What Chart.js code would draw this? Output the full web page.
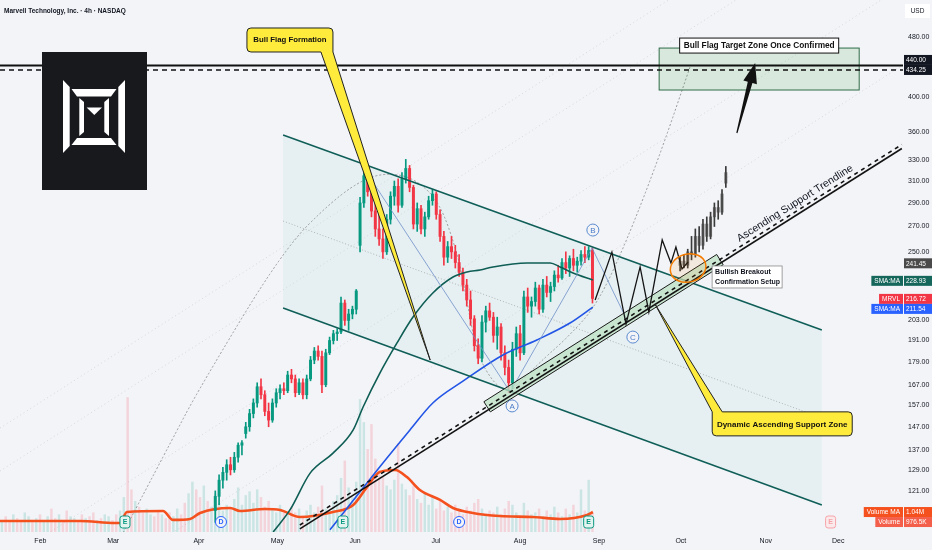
<!DOCTYPE html>
<html>
<head>
<meta charset="utf-8">
<title>MRVL 4h</title>
<script src="https://cdn.jsdelivr.net/npm/chart.js@4.4.1/dist/chart.umd.min.js"></script>
<style>
  html, body { margin: 0; padding: 0; background: #f3f4f8; overflow: hidden; }
  canvas { display: block; }
</style>
</head>
<body>
<canvas id="chart" width="932" height="550"></canvas>
<script>
// x values are session numbers counted from Jan 2, prices are USD
const monthDays = [20.1, 39.2, 61.7, 82.3, 102.7, 123.9, 146.0, 166.7, 188.2, 210.5, 229.5];
const monthLabels = ['Feb', 'Mar', 'Apr', 'May', 'Jun', 'Jul', 'Aug', 'Sep', 'Oct', 'Nov', 'Dec'];
const priceTicks = [121, 129, 137, 147, 157, 167, 179, 191, 203, 250, 270, 290, 310, 330, 360, 400, 480];

// [open, high, low, close], one per session starting at firstCandleDay
const firstCandleDay = 66;
const candles = [
  [114,121,110,119],[119,127,116,125],[125,130,122,128],[128,133,125,131],[131,134,127,129],
  [129,136,128,134],[134,140,132,139],[139,141,135,140],[144,149,142,147],[147,155,145,153],
  [153,160,151,158],[158,168,156,166],[166,170,160,162],[162,164,152,154],[154,158,147,150],
  [150,160,149,158],[158,165,156,163],[163,167,160,165],[165,168,162,164],[164,174,163,172],
  [172,175,168,170],[170,172,161,163],[163,170,162,168],[168,170,160,162],[162,172,160,170],
  [170,182,169,180],[180,187,178,185],[185,188,180,182],[182,185,163,167],[167,186,166,184],
  [184,193,183,191],[191,197,189,195],[195,198,191,196],[196,218,195,214],[214,216,200,203],
  [203,210,197,207],[207,212,204,210],[210,223,207,222],[255,295,250,290],[290,322,286,315],
  [315,324,296,300],[300,308,278,283],[283,295,262,268],[268,286,255,260],[260,268,245,250],
  [250,280,248,276],[276,300,272,296],[296,310,288,305],[305,312,282,288],[288,318,286,312],
  [312,331,308,322],[322,325,300,304],[304,306,268,272],[272,290,266,285],[285,288,264,268],
  [268,282,262,278],[278,296,276,292],[292,302,288,298],[298,300,276,280],[280,284,258,262],
  [262,266,240,246],[246,258,242,254],[254,262,245,250],[250,255,238,242],[242,248,232,235],
  [235,238,222,226],[226,230,212,216],[216,222,200,204],[204,206,185,188],[188,192,178,181],
  [181,206,179,202],[202,212,196,209],[209,214,203,205],[205,208,190,194],[194,205,186,199],
  [199,201,180,184],[184,188,172,176],[176,180,163,168],[168,190,165,186],[186,199,182,195],
  [195,200,180,184],[184,222,183,218],[218,224,208,212],[212,218,205,215],[215,228,212,224],
  [224,226,207,210],[210,230,208,226],[226,232,218,221],[221,228,215,225],[225,236,222,233],
  [233,240,228,231],[231,245,230,242],[242,250,234,238],[238,247,232,245],[245,252,236,240],
  [240,246,235,243],[243,251,240,248],[248,254,242,246],[246,254,244,251],[251,253,214,217]
];

// projected bars pattern drawn in October
const projectedStartDay = 188;
const projectedBars = [
  [240,246,236,243],[243,248,238,240],[240,252,238,250],[250,262,244,248],[248,268,246,262],
  [262,270,250,255],[255,276,252,272],[272,278,258,262],[262,282,260,278],[278,290,270,286],
  [286,292,276,282],[282,302,280,298],[308,324,304,318]
];

// volume in millions, one per session starting at volumeStartDay
const volumeStartDay = 10;
const volumes = [
  0.6,0.8,0.5,0.9,0.7,0.6,1.0,0.8,0.5,0.7,
  0.9,0.6,0.8,1.2,0.7,0.9,0.6,1.1,0.8,0.7,
  0.6,0.9,0.7,0.8,1.0,0.6,0.7,0.9,0.8,0.6,
  0.9,1.1,1.8,7.0,2.2,1.6,1.3,1.0,1.2,0.9,
  0.8,1.1,0.9,0.7,1.0,0.8,1.2,0.9,1.5,2.0,
  2.6,2.2,1.8,2.4,1.6,1.3,2.0,1.5,1.1,1.4,
  1.2,1.7,2.3,1.4,1.9,2.1,1.5,2.2,1.8,1.3,
  1.6,1.2,1.0,1.4,1.1,0.9,1.3,1.0,1.2,0.8,
  1.1,1.4,1.0,1.3,2.4,1.2,1.0,1.6,1.9,2.8,
  3.7,2.3,1.8,2.6,6.9,5.7,4.3,5.6,3.8,3.2,
  2.9,2.4,2.2,2.7,4.6,2.5,2.2,1.9,2.4,1.7,
  1.5,2.0,1.4,1.8,1.2,1.6,1.1,1.3,1.0,1.4,
  1.2,0.9,1.3,1.1,1.5,1.7,1.2,0.9,1.1,1.0,
  1.3,0.9,1.2,1.6,1.4,1.0,0.8,1.5,1.1,0.9,
  1.0,1.2,0.8,1.1,0.9,1.3,1.0,0.8,1.2,0.9,
  1.4,1.0,2.2,1.1,2.7,1.0
];
// bar colour for the sessions before the first visible candle (u = up, d = down)
const earlyVolumeDirs = 'uddudduududuuddudduuddudduduudduuddudduuddudduudduuddud';

const volumeMA = [[9.5,0.57],[30.5,0.57],[39.7,0.47],[41.0,0.47],[42.8,1.04],[52.3,1.09],[54.9,0.63],
  [59.4,0.68],[62.0,0.99],[69.9,1.25],[72.5,1.09],[79.0,1.20],[83.0,1.15],[88.2,0.78],[96.9,1.04],
  [102.2,1.41],[105.8,2.34],[109.2,3.13],[113.2,3.23],[116.3,2.86],[119.7,2.19],[125.0,1.67],
  [128.4,1.25],[133.6,0.99],[140.7,0.83],[149.4,0.78],[156.5,0.68],[163.6,0.89],[165.1,1.04]];
const smaFast = [[81.2,106.8],[85.6,114.2],[90.9,127.7],[96.9,135.7],[102.2,145.6],[104.8,156.1],
  [109.2,173.0],[113.7,189.6],[117.9,205.1],[123.1,220.6],[128.4,231.6],[132.1,235.2],[135.5,236.6],
  [138.9,238.8],[147.8,241.7],[153.9,241.7],[156.5,238.8],[159.9,234.5],[165.1,229.5]];
const smaSlow = [[96.1,107.5],[110.0,131.7],[117.1,145.6],[123.1,158.0],[131.0,168.8],[141.5,182.8],
  [150.4,191.3],[159.1,201.4],[165.1,211.4]];

// drawings, as [session, price] anchors
const channelUpper = [[83.8,356.4],[225.2,197.2]];
const channelLower = [[83.8,210.8],[225.2,115.9]];
const channelMid = [[83.8,274.5],[225.2,151.0]];
const supportLine = [[88.2,107.8],[246.2,342.1]];
const supportDashed = [[88.2,109.1],[246.2,346.3]];
const supportZone = [[136.5,158.6],[138.2,153.8],[199.3,240.4],[197.6,248.0]];
const targetZone = [[182.5,464.1],[235.0,408.6]];
const targetLine = 440;
const targetDashed = 434.25;
const projection = [[165.7,216.0],[170.1,249.8],[173.8,200.8],[177.5,238.8],[179.8,208.3],[183.3,259.2],
  [185.6,241.7],[186.9,253.7],[188.5,237.3],[190.1,242.4]];
const abcLegs = [[104.8,323.4],[143.4,163.4],[164.9,252.9],[174.3,202.0]];
const abcMarks = [['A',143.9,156.6],['B',165.1,267.1],['C',175.6,193.0]];
const arcLeft = [[41.8,106.5],[54.6,141.2],[62.0,165.8],[83.8,251.4],[96.9,292.6],[105.8,313.7],
  [112.7,317.6],[118.9,310.9],[125.0,290.0],[129.7,247.6],[131.5,222.6],[134.7,182.8],[139.4,166.8],[143.4,163.4]];
const arcRight = [[143.4,163.4],[151.2,178.9],[158.3,192.4],[166.2,212.7],[174.1,259.2],[182.7,335.4],[190.6,438.2]];
const guideLines = [
  [[9.5,146.4],[246.5,846.7]], [[9.5,128.5],[246.5,743.0]],
  [[9.5,96.9],[246.5,560.3]], [[9.5,76.2],[246.5,440.8]]
];
const targetArrow = [[202.9,358.6],[207.7,443.5]];
const flagCallout = { text: 'Bull Flag Formation', at: [85.6,475.6], tip: [122.4,180.0] };
const zoneCallout = { text: 'Dynamic Ascending Support Zone', at: [214.8,148.3], tip: [181.4,213.4] };
const breakoutNote = { lines: ['Bullish Breakout', 'Confirmation Setup'], at: [196.4,239.5] };
const breakoutRing = [190.1,238.0];
const trendLabel = { text: 'Ascending Support Trendline', day: 219.2 };
const targetLabel = 'Bull Flag Target Zone Once Confirmed';
const earningsDays = [42.3, 99.5, 164.0];
const dividendDays = [67.5, 130.0];
const futureEarningsDays = [227.5];

const axisTags = [
  { value: 434.25, text: '434.25', bg: '#131722' },
  { value: 440, text: '440.00', bg: '#131722' },
  { value: 241.45, text: '241.45', bg: '#4a4a4a' },
  { value: 228.93, name: 'SMA:MA', text: '228.93', bg: '#15675b' },
  { value: 216.72, name: 'MRVL', text: '216.72', bg: '#f23645' },
  { value: 211.54, name: 'SMA:MA', text: '211.54', bg: '#2962ff' },
  { value: 1.04, axis: 'yv', name: 'Volume MA', text: '1.04M', bg: '#f4511e' },
  { value: 0.9765, axis: 'yv', name: 'Volume', text: '976.5K', bg: '#f45f4c' }
];

const GREEN = '#089981';
const RED = '#f23645';
const BG = '#f3f4f8';
const FONT = '"Liberation Sans", Arial, sans-serif';

const isUp = c => c[3] >= c[0];
const wickData = candles.map((c, i) => ({ x: firstCandleDay + i, y: [c[2], c[1]] }));
const bodyData = candles.map((c, i) => ({ x: firstCandleDay + i, y: [Math.min(c[0], c[3]), Math.max(c[0], c[3])] }));
const candleColors = candles.map(c => isUp(c) ? GREEN : RED);
const projWicks = projectedBars.map((c, i) => ({ x: projectedStartDay + i, y: [c[2], c[1]] }));
const projBodies = projectedBars.map((c, i) => ({ x: projectedStartDay + i, y: [Math.min(c[0], c[3]), Math.max(c[0], c[3])] }));
const volumeData = volumes.map((v, i) => ({ x: volumeStartDay + i, y: v }));
const volumeColors = volumes.map((v, i) => {
  const c = candles[volumeStartDay + i - firstCandleDay];
  const up = c ? isUp(c) : earlyVolumeDirs[i] !== 'd';
  return up ? 'rgba(8,153,129,0.17)' : 'rgba(242,54,69,0.17)';
});
const toXY = arr => arr.map(([x, y]) => ({ x, y }));

// ---- drawing helpers ----
function pix(chart, p) {
  return [chart.scales.x.getPixelForValue(p[0]), chart.scales.y.getPixelForValue(p[1])];
}
function polyPath(ctx, pts, close) {
  ctx.beginPath();
  pts.forEach((p, i) => i ? ctx.lineTo(p[0], p[1]) : ctx.moveTo(p[0], p[1]));
  if (close) ctx.closePath();
}
function strokeLine(ctx, pts, color, width, dash) {
  ctx.save();
  ctx.strokeStyle = color;
  ctx.lineWidth = width;
  ctx.setLineDash(dash || []);
  polyPath(ctx, pts, false);
  ctx.stroke();
  ctx.restore();
}
function smoothPath(ctx, pts) {
  ctx.beginPath();
  ctx.moveTo(pts[0][0], pts[0][1]);
  for (let i = 1; i < pts.length - 1; i++) {
    const mx = (pts[i][0] + pts[i + 1][0]) / 2, my = (pts[i][1] + pts[i + 1][1]) / 2;
    ctx.quadraticCurveTo(pts[i][0], pts[i][1], mx, my);
  }
  const last = pts[pts.length - 1];
  ctx.lineTo(last[0], last[1]);
}
function roundRect(ctx, x, y, w, h, r) {
  ctx.beginPath();
  ctx.moveTo(x + r, y);
  ctx.lineTo(x + w - r, y);
  ctx.quadraticCurveTo(x + w, y, x + w, y + r);
  ctx.lineTo(x + w, y + h - r);
  ctx.quadraticCurveTo(x + w, y + h, x + w - r, y + h);
  ctx.lineTo(x + r, y + h);
  ctx.quadraticCurveTo(x, y + h, x, y + h - r);
  ctx.lineTo(x, y + r);
  ctx.quadraticCurveTo(x, y, x + r, y);
  ctx.closePath();
}
function clipArea(chart) {
  const a = chart.chartArea;
  chart.ctx.save();
  chart.ctx.beginPath();
  chart.ctx.rect(a.left, a.top, a.right - a.left, a.bottom - a.top);
  chart.ctx.clip();
}

function drawLogo(ctx, x0, y0) {
  ctx.save();
  ctx.fillStyle = '#17191d';
  ctx.fillRect(x0, y0, 105, 138);
  ctx.fillStyle = '#ffffff';
  const shapes = [
    [[21,28],[27.7,35],[27.7,94],[21,101]],
    [[83,28],[76.3,35],[76.3,94],[83,101]],
    [[29.5,37],[74.5,37],[69,44.5],[35,44.5]],
    [[35,86],[69,86],[74.5,93],[29.5,93]],
    [[37.3,46],[42,50],[42,80],[37.3,84]],
    [[67,46],[62.3,50],[62.3,80],[67,84]],
    [[44.6,55.6],[60,55.6],[52.3,63]]
  ];
  shapes.forEach(s => { polyPath(ctx, s.map(p => [x0 + p[0], y0 + p[1]]), true); ctx.fill(); });
  ctx.restore();
}

const underPlugin = {
  id: 'under',
  beforeDraw(chart) {
    const ctx = chart.ctx;
    ctx.save();
    ctx.fillStyle = BG;
    ctx.fillRect(0, 0, chart.width, chart.height);
    ctx.restore();
  },
  beforeDatasetsDraw(chart) {
    const ctx = chart.ctx;
    clipArea(chart);
    guideLines.forEach(l => strokeLine(ctx, l.map(p => pix(chart, p)), 'rgba(140,140,155,0.35)', 0.8, [1, 3]));
    // channel shading
    const poly = [pix(chart, channelUpper[0]), pix(chart, channelUpper[1]), pix(chart, channelLower[1]), pix(chart, channelLower[0])];
    ctx.fillStyle = 'rgba(178,223,219,0.20)';
    polyPath(ctx, poly, true);
    ctx.fill();
    strokeLine(ctx, channelMid.map(p => pix(chart, p)), '#a3a3a3', 0.8, [1, 2]);
    // dotted arcs
    ctx.save();
    ctx.strokeStyle = '#9a9a9a';
    ctx.lineWidth = 1;
    ctx.setLineDash([2, 2]);
    smoothPath(ctx, arcLeft.map(p => pix(chart, p)));
    ctx.stroke();
    smoothPath(ctx, arcRight.map(p => pix(chart, p)));
    ctx.stroke();
    ctx.restore();
    ctx.restore();
  }
};

const overPlugin = {
  id: 'over',
  afterDatasetsDraw(chart) {
    const ctx = chart.ctx;
    const a = chart.chartArea;
    const y = chart.scales.y;
    clipArea(chart);

    strokeLine(ctx, abcLegs.map(p => pix(chart, p)), '#6f8fc9', 0.8);
    strokeLine(ctx, channelUpper.map(p => pix(chart, p)), '#105e58', 1.6);
    strokeLine(ctx, channelLower.map(p => pix(chart, p)), '#105e58', 1.6);

    // support zone box, then trend lines
    ctx.fillStyle = 'rgba(190,225,196,0.75)';
    polyPath(ctx, supportZone.map(p => pix(chart, p)), true);
    ctx.fill();
    ctx.strokeStyle = '#1b1b1b';
    ctx.lineWidth = 1;
    ctx.stroke();
    strokeLine(ctx, supportLine.map(p => pix(chart, p)), '#131313', 1.6);
    strokeLine(ctx, supportDashed.map(p => pix(chart, p)), '#131313', 1.6, [4, 4]);

    strokeLine(ctx, projection.map(p => pix(chart, p)), '#141414', 1.3);

    // breakout ring
    const rc = pix(chart, breakoutRing);
    ctx.save();
    ctx.beginPath();
    ctx.ellipse(rc[0], rc[1], 18, 14, -0.25, 0, Math.PI * 2);
    ctx.fillStyle = 'rgba(245,124,0,0.10)';
    ctx.fill();
    ctx.strokeStyle = '#f57c00';
    ctx.lineWidth = 1.5;
    ctx.stroke();
    ctx.restore();

    // target zone
    const t0 = pix(chart, targetZone[0]), t1 = pix(chart, targetZone[1]);
    ctx.fillStyle = 'rgba(76,175,80,0.16)';
    ctx.fillRect(t0[0], t0[1], t1[0] - t0[0], t1[1] - t0[1]);
    ctx.strokeStyle = '#2f6b48';
    ctx.lineWidth = 1;
    ctx.strokeRect(t0[0], t0[1], t1[0] - t0[0], t1[1] - t0[1]);

    // 440 target level and 434.25 dashed level
    strokeLine(ctx, [[a.left, y.getPixelForValue(targetLine)], [a.right, y.getPixelForValue(targetLine)]], '#111', 2);
    strokeLine(ctx, [[a.left, y.getPixelForValue(targetDashed)], [a.right, y.getPixelForValue(targetDashed)]], '#111', 1.6, [5, 4]);

    // label on the target zone
    ctx.font = 'bold 8.3px ' + FONT;
    const tw = ctx.measureText(targetLabel).width + 8;
    const tcx = (t0[0] + t1[0]) / 2;
    ctx.fillStyle = '#ffffff';
    ctx.fillRect(tcx - tw / 2, t0[1] - 10, tw, 15);
    ctx.strokeStyle = '#111';
    ctx.strokeRect(tcx - tw / 2, t0[1] - 10, tw, 15);
    ctx.fillStyle = '#111';
    ctx.textAlign = 'center';
    ctx.textBaseline = 'middle';
    ctx.fillText(targetLabel, tcx, t0[1] - 2.5);

    // arrow to the target
    const b = pix(chart, targetArrow[0]), tp = pix(chart, targetArrow[1]);
    const len = Math.hypot(tp[0] - b[0], tp[1] - b[1]);
    const ux = (tp[0] - b[0]) / len, uy = (tp[1] - b[1]) / len, nx = -uy, ny = ux;
    const hx = tp[0] - ux * 20, hy = tp[1] - uy * 20;
    polyPath(ctx, [
      [b[0] + nx * 0.6, b[1] + ny * 0.6], [hx + nx * 2.4, hy + ny * 2.4], [hx + nx * 7, hy + ny * 7],
      tp, [hx - nx * 7, hy - ny * 7], [hx - nx * 2.4, hy - ny * 2.4], [b[0] - nx * 0.6, b[1] - ny * 0.6]
    ], true);
    ctx.fillStyle = '#111';
    ctx.fill();

    // trendline caption
    const s0 = pix(chart, supportDashed[0]), s1 = pix(chart, supportDashed[1]);
    const ang = Math.atan2(s1[1] - s0[1], s1[0] - s0[0]);
    const lx = chart.scales.x.getPixelForValue(trendLabel.day);
    const ly = s0[1] + (lx - s0[0]) * Math.tan(ang);
    ctx.save();
    ctx.translate(lx, ly);
    ctx.rotate(ang);
    ctx.font = '10.5px ' + FONT;
    ctx.fillStyle = '#131722';
    ctx.textAlign = 'center';
    ctx.textBaseline = 'bottom';
    ctx.fillText(trendLabel.text, 0, -2);
    ctx.restore();

    drawLogo(ctx, a.left + 42, a.top + 52);

    // Bull Flag Formation callout (pointer from the bottom right)
    {
      const c = pix(chart, flagCallout.at), tip = pix(chart, flagCallout.tip);
      const w = 86, h = 24, r = 4, bx = c[0] - w / 2, by = c[1] - h / 2;
      ctx.beginPath();
      ctx.moveTo(bx + r, by);
      ctx.lineTo(bx + w - r, by);
      ctx.quadraticCurveTo(bx + w, by, bx + w, by + r);
      ctx.lineTo(bx + w, by + h);
      ctx.lineTo(tip[0], tip[1]);
      ctx.lineTo(bx + w - 12, by + h);
      ctx.lineTo(bx + r, by + h);
      ctx.quadraticCurveTo(bx, by + h, bx, by + h - r);
      ctx.lineTo(bx, by + r);
      ctx.quadraticCurveTo(bx, by, bx + r, by);
      ctx.closePath();
      ctx.fillStyle = '#ffeb3b';
      ctx.fill();
      ctx.strokeStyle = '#222';
      ctx.lineWidth = 1;
      ctx.stroke();
      ctx.font = 'bold 7.8px ' + FONT;
      ctx.fillStyle = '#111';
      ctx.textAlign = 'center';
      ctx.textBaseline = 'middle';
      ctx.fillText(flagCallout.text, c[0], c[1]);
    }
    // Dynamic Ascending Support Zone callout (pointer from the top left)
    {
      const c = pix(chart, zoneCallout.at), tip = pix(chart, zoneCallout.tip);
      const w = 140, h = 24, r = 4, bx = c[0] - w / 2, by = c[1] - h / 2;
      ctx.beginPath();
      ctx.moveTo(bx + 10, by);
      ctx.lineTo(bx + w - r, by);
      ctx.quadraticCurveTo(bx + w, by, bx + w, by + r);
      ctx.lineTo(bx + w, by + h - r);
      ctx.quadraticCurveTo(bx + w, by + h, bx + w - r, by + h);
      ctx.lineTo(bx + r, by + h);
      ctx.quadraticCurveTo(bx, by + h, bx, by + h - r);
      ctx.lineTo(bx, by);
      ctx.lineTo(tip[0], tip[1]);
      ctx.closePath();
      ctx.fillStyle = '#ffeb3b';
      ctx.fill();
      ctx.strokeStyle = '#222';
      ctx.lineWidth = 1;
      ctx.stroke();
      ctx.font = 'bold 8px ' + FONT;
      ctx.fillStyle = '#111';
      ctx.textAlign = 'center';
      ctx.textBaseline = 'middle';
      ctx.fillText(zoneCallout.text, c[0], c[1] + 1);
    }
    // breakout note
    {
      const p = pix(chart, breakoutNote.at);
      ctx.fillStyle = '#ffffff';
      ctx.fillRect(p[0], p[1], 70, 22);
      ctx.strokeStyle = '#8a8a8a';
      ctx.lineWidth = 0.8;
      ctx.strokeRect(p[0], p[1], 70, 22);
      ctx.font = 'bold 7px ' + FONT;
      ctx.fillStyle = '#131722';
      ctx.textAlign = 'left';
      ctx.textBaseline = 'middle';
      breakoutNote.lines.forEach((s, i) => ctx.fillText(s, p[0] + 3, p[1] + 6 + i * 10));
    }
    // A B C marks
    abcMarks.forEach(([t, d, v]) => {
      const p = pix(chart, [d, v]);
      ctx.beginPath();
      ctx.arc(p[0], p[1], 6, 0, Math.PI * 2);
      ctx.fillStyle = BG;
      ctx.fill();
      ctx.strokeStyle = '#5b8bd0';
      ctx.lineWidth = 1;
      ctx.stroke();
      ctx.font = '8px ' + FONT;
      ctx.fillStyle = '#4a7cc7';
      ctx.textAlign = 'center';
      ctx.textBaseline = 'middle';
      ctx.fillText(t, p[0], p[1] + 0.5);
    });
    // earnings and dividend markers at the bottom
    const my = a.bottom - 10;
    const marker = (d, letter, stroke, fill, round) => {
      const mx = chart.scales.x.getPixelForValue(d);
      if (round) { ctx.beginPath(); ctx.arc(mx, my, 5.5, 0, Math.PI * 2); }
      else roundRect(ctx, mx - 5, my - 6, 10, 12, 2.5);
      ctx.fillStyle = fill;
      ctx.fill();
      ctx.strokeStyle = stroke;
      ctx.lineWidth = 1;
      ctx.stroke();
      ctx.font = 'bold 7px ' + FONT;
      ctx.fillStyle = stroke;
      ctx.textAlign = 'center';
      ctx.textBaseline = 'middle';
      ctx.fillText(letter, mx, my + 0.5);
    };
    earningsDays.forEach(d => marker(d, 'E', '#089981', '#e3f3ef', false));
    dividendDays.forEach(d => marker(d, 'D', '#2962ff', BG, true));
    futureEarningsDays.forEach(d => marker(d, 'E', '#f5a3a8', '#fbeaec', false));
    ctx.restore();
  },
  afterDraw(chart) {
    const ctx = chart.ctx;
    const a = chart.chartArea;
    ctx.save();
    ctx.font = '600 6.5px ' + FONT;
    ctx.fillStyle = '#131722';
    ctx.textAlign = 'left';
    ctx.textBaseline = 'middle';
    ctx.fillText('Marvell Technology, Inc. \u00b7 4h \u00b7 NASDAQ', 4, 11);

    // USD badge
    ctx.fillStyle = '#ffffff';
    ctx.fillRect(a.right + 2, 4, 25, 14);
    ctx.font = '6.5px ' + FONT;
    ctx.fillStyle = '#131722';
    ctx.textAlign = 'center';
    ctx.fillText('USD', a.right + 14.5, 11);

    // price/volume tags on the axis
    const placed = [];
    axisTags.forEach(tag => {
      let ty = chart.scales[tag.axis || 'y'].getPixelForValue(tag.value);
      placed.forEach(o => {
        if (Math.abs(ty - o.y) < 10) ty = tag.value > o.value ? o.y - 10 : o.y + 10;
      });
      placed.push({ y: ty, value: tag.value });
      ctx.font = '6.5px ' + FONT;
      ctx.fillStyle = tag.bg;
      ctx.fillRect(a.right + 1, ty - 5, 28, 10);
      ctx.fillStyle = '#ffffff';
      ctx.textAlign = 'left';
      ctx.textBaseline = 'middle';
      ctx.fillText(tag.text, a.right + 3, ty + 0.5);
      if (tag.name) {
        const nw = ctx.measureText(tag.name).width + 6;
        ctx.fillStyle = tag.bg;
        ctx.fillRect(a.right - nw, ty - 5, nw, 10);
        ctx.fillStyle = '#ffffff';
        ctx.textAlign = 'center';
        ctx.fillText(tag.name, a.right - nw / 2, ty + 0.5);
      }
    });
    ctx.restore();
  }
};

const ctx = document.getElementById('chart').getContext('2d');
new Chart(ctx, {
  type: 'bar',
  data: {
    datasets: [
      { type: 'line', data: toXY(smaFast), borderColor: '#0f5e55', borderWidth: 1.6, pointRadius: 0,
        cubicInterpolationMode: 'monotone', yAxisID: 'y', order: 1 },
      { type: 'line', data: toXY(smaSlow), borderColor: '#2255e6', borderWidth: 1.6, pointRadius: 0,
        cubicInterpolationMode: 'monotone', yAxisID: 'y', order: 1 },
      { data: bodyData, backgroundColor: candleColors, barThickness: 2.3, minBarLength: 1,
        grouped: false, yAxisID: 'y', order: 2 },
      { data: wickData, backgroundColor: candleColors, barThickness: 1, grouped: false, yAxisID: 'y', order: 3 },
      { data: projBodies, backgroundColor: 'rgba(70,70,70,0.75)', barThickness: 2.3, minBarLength: 1,
        grouped: false, yAxisID: 'y', order: 2 },
      { data: projWicks, backgroundColor: '#3a3a3a', barThickness: 1, grouped: false, yAxisID: 'y', order: 3 },
      { type: 'line', data: toXY(volumeMA), borderColor: '#f4511e', borderWidth: 2.6, pointRadius: 0,
        cubicInterpolationMode: 'monotone', yAxisID: 'yv', order: 8 },
      { data: volumeData, backgroundColor: volumeColors, barThickness: 1.8, grouped: false, yAxisID: 'yv', order: 9 }
    ]
  },
  options: {
    responsive: false,
    animation: false,
    devicePixelRatio: 1,
    events: [],
    layout: { padding: 0 },
    plugins: { legend: { display: false }, tooltip: { enabled: false } },
    scales: {
      x: {
        type: 'linear', min: 9.5, max: 246.5, offset: false,
        grid: { display: false, drawTicks: false, offset: false },
        border: { display: false },
        afterBuildTicks: s => { s.ticks = monthDays.map(v => ({ value: v })); },
        afterFit: s => { s.height = 18; s.paddingLeft = 0; s.paddingRight = 0; },
        ticks: {
          autoSkip: false, maxRotation: 0, padding: 5, color: '#131722',
          font: { family: FONT, size: 7 },
          callback: (v, i) => monthLabels[i]
        }
      },
      y: {
        type: 'logarithmic', position: 'right', min: 106.8, max: 537,
        grid: { display: false, drawTicks: false },
        border: { display: false },
        afterBuildTicks: s => { s.ticks = priceTicks.map(v => ({ value: v })); },
        afterFit: s => { s.width = 29; s.paddingTop = 0; s.paddingBottom = 0; },
        ticks: {
          autoSkip: false, padding: 5, color: '#131722',
          font: { family: FONT, size: 7 },
          callback: v => Number(v).toFixed(2)
        }
      },
      yv: { type: 'linear', display: false, min: 0, max: 27.7 }
    }
  },
  plugins: [underPlugin, overPlugin]
});
</script>
</body>
</html>
